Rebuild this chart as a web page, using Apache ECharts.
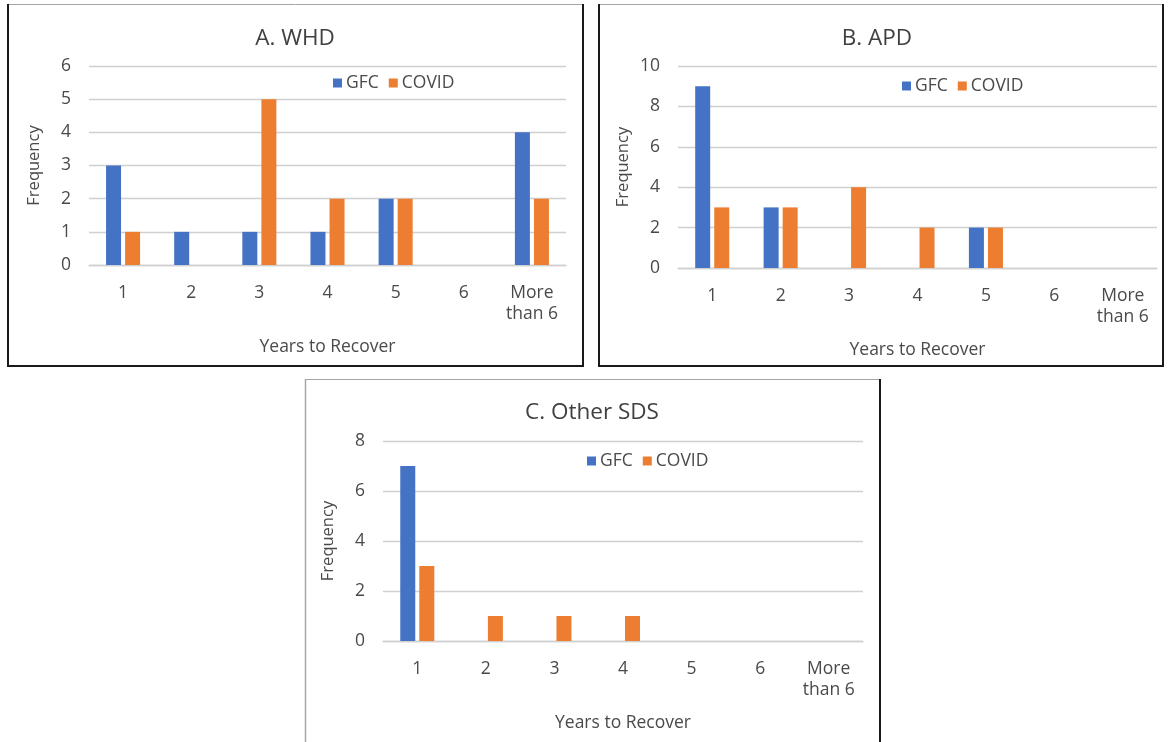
<!DOCTYPE html>
<html><head><meta charset="utf-8">
<script src="https://cdn.jsdelivr.net/npm/echarts@6/dist/echarts.min.js"></script>
<style>html,body{margin:0;padding:0;background:#fff}#c{width:1169px;height:742px}</style>
</head><body><div id="c"></div>
<script>
const categories = ['1','2','3','4','5','6','More\nthan 6'];
const seriesNames = ['GFC','COVID'];
const whdGFC = [3,1,1,1,2,0,4];
const whdCOVID = [1,0,5,2,2,0,2];
const apdGFC = [9,3,0,0,2,0,0];
const apdCOVID = [3,3,4,2,2,0,0];
const sdsGFC = [7,0,0,0,0,0,0];
const sdsCOVID = [3,1,1,1,0,0,0];
const titles = ['A. WHD','B. APD','C. Other SDS'];
const yMax = [6,10,8];
const yStep = [1,2,2];

const FONT = '"Open Sans", "Noto Sans", sans-serif';
const TXT = '#4a4a4a';
const BLUE = '#4472C4', ORANGE = '#ED7D31';

const grids = [
  {left:89, top:66, width:477, height:199},
  {left:678, top:66, width:479, height:202},
  {left:383, top:441, width:480, height:200}
];
const titlePos = [{x:295,y:27},{x:877,y:27},{x:592,y:401}];
const legendPos = [{x:333,y:74},{x:902,y:77},{x:587,y:452}];
const data = [[whdGFC,whdCOVID],[apdGFC,apdCOVID],[sdsGFC,sdsCOVID]];

const xAxis = [], yAxis = [], series = [], title = [], legend = [];
for (let i=0;i<3;i++){
  xAxis.push({type:'category', gridIndex:i, data:categories,
    axisLine:{lineStyle:{color:'#d0d0d0',width:1.3}}, axisTick:{show:false},
    axisLabel:{color:TXT, fontFamily:FONT, fontSize:17.5, margin:18, lineHeight:21, interval:0},
    name:'Years to Recover', nameLocation:'middle', nameGap:73,
    nameTextStyle:{color:TXT, fontFamily:FONT, fontSize:17.5}});
  yAxis.push({type:'value', gridIndex:i, min:0, max:yMax[i], interval:yStep[i],
    axisLine:{show:false}, axisTick:{show:false},
    splitLine:{lineStyle:{color:'#d0d0d0',width:1.3}},
    axisLabel:{color:TXT, fontFamily:FONT, fontSize:17.5, margin:18},
    name:'Frequency', nameLocation:'middle', nameGap:46,
    nameTextStyle:{color:TXT, fontFamily:FONT, fontSize:16.5}});
  series.push({type:'bar', name:seriesNames[0], xAxisIndex:i, yAxisIndex:i, data:data[i][0],
    barWidth:15, barGap:'27%', itemStyle:{color:BLUE}, silent:true});
  series.push({type:'bar', name:seriesNames[1], xAxisIndex:i, yAxisIndex:i, data:data[i][1],
    barWidth:15, barGap:'27%', itemStyle:{color:ORANGE}, silent:true});
  title.push({text:titles[i], left:titlePos[i].x, top:titlePos[i].y, textAlign:'center', padding:0,
    textStyle:{color:'#404040', fontFamily:FONT, fontSize:22.5, fontWeight:'normal'}});
  legend.push({data:seriesNames, left:legendPos[i].x, top:legendPos[i].y, itemWidth:9, itemHeight:9,
    itemGap:10, icon:'rect', selectedMode:false, padding:0,
    textStyle:{color:TXT, fontFamily:FONT, fontSize:17.5, padding:[0,0,0,-1]}});
}

function border(x1,y1,x2,y2,color,w){
  return {type:'line', shape:{x1,y1,x2,y2}, style:{stroke:color, lineWidth:w}, silent:true};
}
const DARK='#1a1a1a', GRAY='#a6a6a6';
const graphic = [
  border(7,4.5,584,4.5,GRAY,1), border(8,4,8,367,DARK,2), border(583,4,583,367,DARK,2), border(7,366,584,366,DARK,2),
  border(598,4.5,1164,4.5,GRAY,1), border(599,4,599,367,DARK,2), border(1163,4,1163,367,DARK,2), border(598,366,1164,366,DARK,2),
  border(305,379.5,881,379.5,GRAY,1), border(305.5,379,305.5,742,GRAY,1.5), border(880,379,880,742,DARK,2)
];

const chart = echarts.init(document.getElementById('c'), null, {renderer:'canvas'});
chart.setOption({animation:false, backgroundColor:'#fff', grid:grids, xAxis, yAxis, series, title, legend, graphic});
</script></body></html>
